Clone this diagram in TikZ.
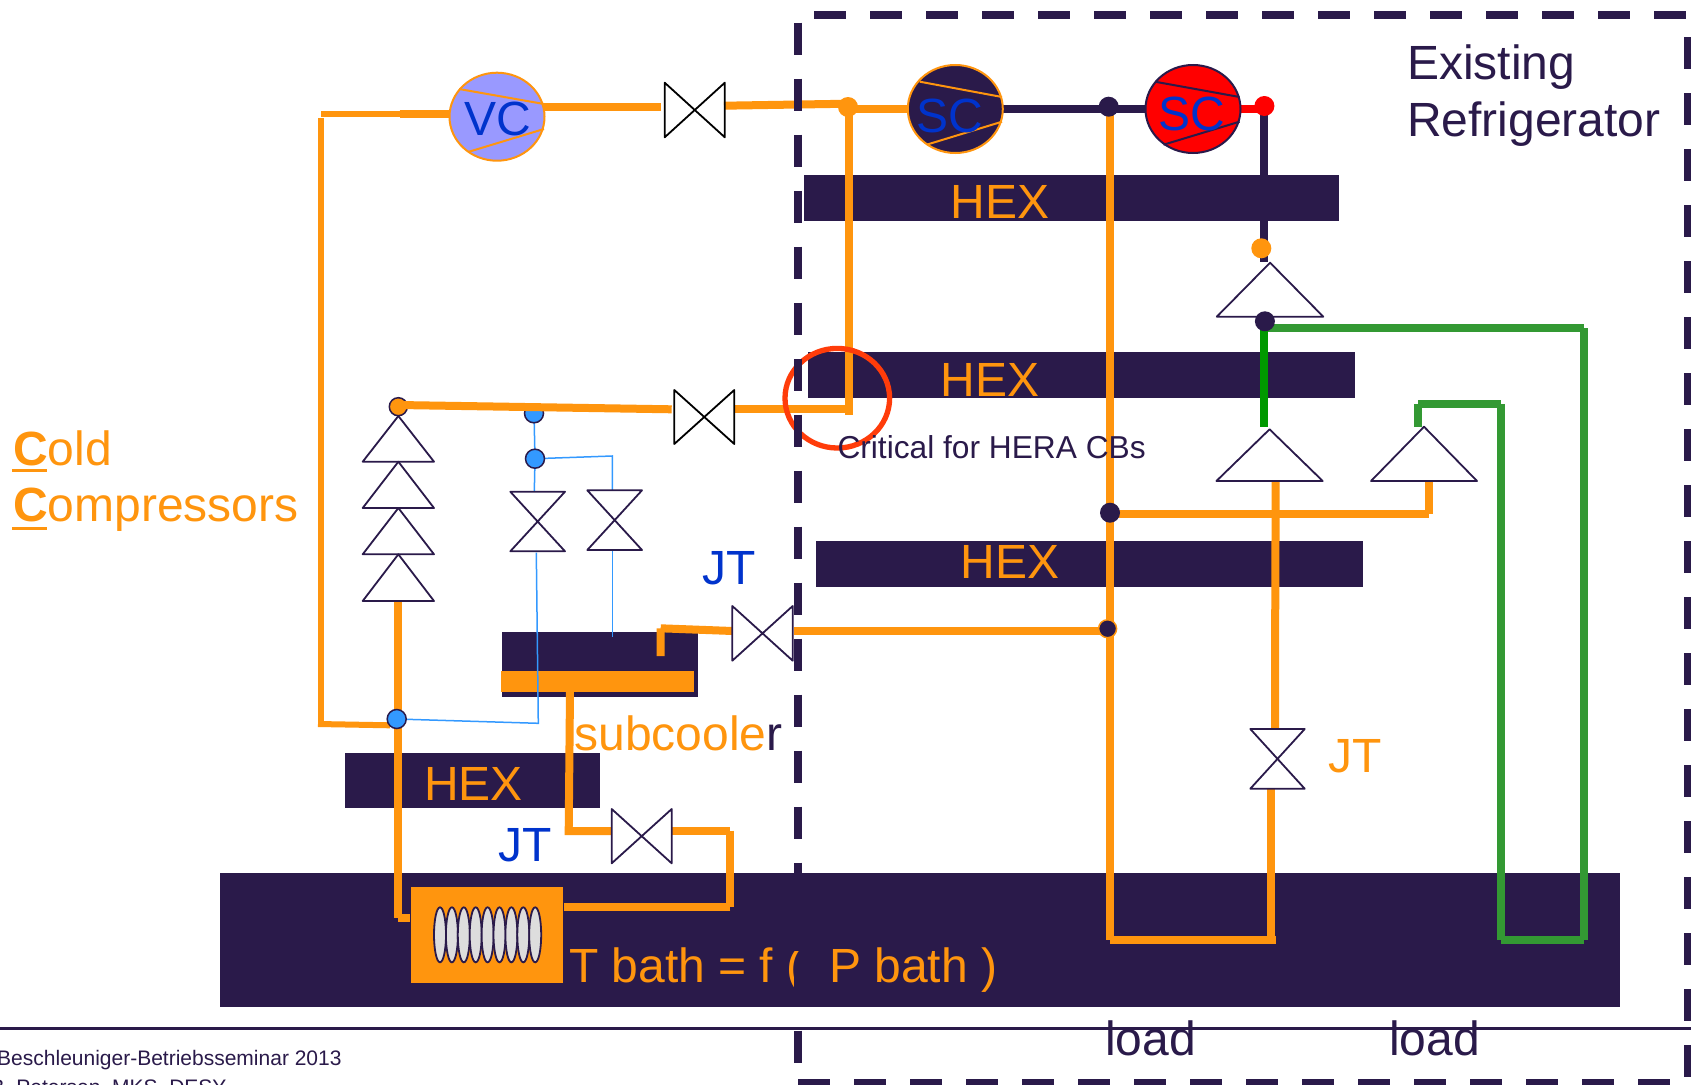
\documentclass[tikz,border=0pt]{standalone}
\usepackage{fontspec}
\setmainfont{Liberation Sans}
\usetikzlibrary{shapes.geometric}
\pgfdeclarelayer{bars}
\pgfdeclarelayer{pipes}
\pgfsetlayers{bars,pipes,main}
\definecolor{navy}{HTML}{2A1A4A}
\definecolor{orng}{HTML}{FF950E}
\definecolor{txtblue}{HTML}{0033CC}
\definecolor{lblue}{HTML}{3399FF}
\definecolor{grn}{HTML}{339933}
\definecolor{dgrn}{HTML}{009900}
\definecolor{vcfill}{HTML}{9999FF}
\definecolor{ringred}{HTML}{FF3C0A}
\definecolor{coilgrey}{HTML}{DDDDDD}
\newcommand{\fs}[1]{\fontsize{#1}{#1}\selectfont}
% named rectangle from corner (x0,y0) to corner (x1,y1)
\newcommand{\mybox}[6][]{%
  \pgfmathsetmacro{\mybw}{#5-#3}\pgfmathsetmacro{\mybh}{#6-#4}%
  \node[inner sep=0pt,outer sep=0pt,minimum width=\mybw pt,minimum height=\mybh pt,anchor=north west,#1] (#2) at (#3,#4) {};}
\newcommand{\bowh}[2][navy]{\draw[line width=1.8pt,draw=#1,line join=round] (#2.north west)--(#2.south east)--(#2.north east)--(#2.south west)--cycle;}
\newcommand{\bowv}[2][navy]{\draw[line width=1.8pt,draw=#1,line join=round] (#2.north west)--(#2.north east)--(#2.south west)--(#2.south east)--cycle;}
\newcommand{\trig}[1]{\draw[line width=1.8pt,draw=navy,fill=white,line join=round] (#1.north)--(#1.south west)--(#1.south east)--cycle;}
\tikzset{
  pipe/.style={line width=8pt,draw=orng},
  thinpipe/.style={line width=6pt,draw=orng},
  gpipe/.style={line width=8pt,draw=grn},
  npipe/.style={line width=8pt,draw=navy},
  bluel/.style={line width=1.5pt,draw=lblue},
  dashln/.style={line width=8pt,draw=navy,dash pattern=on 32pt off 24pt},
  bar/.style={fill=navy},
  dot/.style={ellipse,inner sep=0pt,outer sep=0pt,minimum width=20pt,minimum height=20pt},
  edot/.style={dot,line width=1.5pt,minimum width=18pt,minimum height=18pt},
  bdot/.style={dot,fill=lblue,draw=navy,line width=1.5pt,minimum width=19pt,minimum height=19pt},
  comp/.style={ellipse,inner sep=0pt,outer sep=0pt,minimum width=95pt,minimum height=88pt,line width=2pt},
  lab/.style={inner sep=0pt,outer sep=0pt,anchor=base},
  labw/.style={inner sep=0pt,outer sep=0pt,anchor=base west},
  labe/.style={inner sep=0pt,outer sep=0pt,anchor=base east},
  big/.style={font=\fs{48}},
  coil/.style={ellipse,inner sep=0pt,outer sep=0pt,minimum width=12pt,minimum height=55pt,draw=navy,fill=coilgrey,line width=1.8pt},
}
\begin{document}
\begin{tikzpicture}[x=1pt,y=-1pt]
\useasboundingbox (0,0) rectangle (1691,1084);
\clip (0,0) rectangle (1691,1084);

% ---- bars
\begin{pgfonlayer}{bars}
\fill[white] (0,0) rectangle (1691,1084);
\mybox[bar]{bath}{220}{873.3}{1620.3}{1006.7}
\mybox[bar]{hexA}{803.6}{175.3}{1339.4}{221.3}
\mybox[bar]{hexB}{808}{352.3}{1355}{398.3}
\mybox[bar]{hexC}{816}{541.3}{1363}{587.3}
\mybox[bar]{hexD}{344.7}{753.3}{600}{808.3}
\mybox[bar]{subbox}{502.3}{632.3}{698.3}{697.3}
\end{pgfonlayer}

% ---- valves and triangles (named frames)
\mybox{vA}{664.7}{82.7}{724.8}{137.3}
\mybox{vB}{674.3}{390}{734.3}{444}
\mybox{vC}{732.3}{606}{792.7}{660.7}
\mybox{vD}{611.7}{809}{671.7}{863.3}
\mybox{vE}{510.3}{491.7}{565}{551.3}
\mybox{vF}{587.3}{490.3}{642}{550}
\mybox{vG}{1250.3}{729}{1304.7}{788.7}
\mybox{tA}{1216.8}{262.7}{1323.3}{316.7}
\mybox{tB}{1216.4}{429.3}{1322.7}{481}
\mybox{tC}{1371}{426.7}{1477}{481}
\mybox{tD}{362.7}{416}{434}{461.7}
\mybox{tE}{362.7}{461.7}{434}{508}
\mybox{tF}{362.7}{508}{434}{554.3}
\mybox{tG}{362.7}{554.3}{434}{601}

% ---- compressors
\node[comp,draw=orng,fill=vcfill] (vc) at (497,116.7) {};
\node[comp,draw=orng,fill=navy] (scA) at (955.3,109) {};
\node[comp,draw=navy,fill=red] (scB) at (1193,109) {};

% ---- junction positions
\coordinate (jKpos) at (396.7,719);
\coordinate (jIpos) at (534,413.3);
\coordinate (jJpos) at (535,458.7);

% ---- free ends and bends
\coordinate (p1) at (321,118);
\coordinate (p2) at (321,724);
\coordinate (p3) at (321,114);
\coordinate (p4) at (399.5,114);
\coordinate (p5) at (449,114);
\coordinate (p6) at (538,107.3);
\coordinate (p7) at (660.5,107.3);
\coordinate (p8) at (724,105.7);
\coordinate (p9) at (849,103.7);
\coordinate (p9a) at (849,109);
\coordinate (p10) at (908,109);
\coordinate (p10a) at (849,107);
\coordinate (p11) at (849,415);
\coordinate (p12) at (734.7,409.3);
\coordinate (p13) at (852.7,409.3);
\coordinate (p14) at (398,405);
\coordinate (p15) at (671.7,409.3);
\coordinate (p16) at (398.3,601);
\coordinate (p17) at (398.3,918);
\coordinate (p18) at (410,918);
\coordinate (p19) at (318,724);
\coordinate (p20) at (390,725.3);
\coordinate (b1) at (501,681.3);
\coordinate (b2) at (694.3,681.3);
\coordinate (s1) at (660.7,656);
\coordinate (s2) at (660.7,628.3);
\coordinate (s4) at (732.7,631);
\coordinate (s5) at (794,630.7);
\coordinate (s5a) at (1107.6,630.7);
\coordinate (s6) at (570,691);
\coordinate (s7) at (568.7,831);
\coordinate (s8) at (611.7,831);
\coordinate (s9) at (671.7,830.7);
\coordinate (s10) at (730.3,830.7);
\coordinate (s11) at (730.3,907.3);
\coordinate (s12) at (564.3,907.3);
\coordinate (r1) at (1109.7,107);
\coordinate (r2) at (1109.7,940);
\coordinate (r2a) at (1275.7,940);
\coordinate (r3) at (1271,940);
\coordinate (r4) at (1271,788.7);
\coordinate (r5) at (1275,728);
\coordinate (r6) at (1275,673);
\coordinate (r7) at (1275.7,481);
\coordinate (r7a) at (1110,513.7);
\coordinate (r8) at (1429.4,513.7);
\coordinate (r9) at (1429.4,481);
\coordinate (g1) at (1265,328);
\coordinate (g2) at (1583.5,328);
\coordinate (g3) at (1583.5,940);
\coordinate (g4) at (1501,940);
\coordinate (g5) at (1501,404.3);
\coordinate (g6) at (1418,404.3);
\coordinate (g7) at (1418,426.7);
\coordinate (g8) at (1264,328);
\coordinate (g9) at (1264,426.7);
\coordinate (n1) at (1264,106);
\coordinate (n2) at (1264,261.7);
\coordinate (q1) at (1240.6,109);
\coordinate (q2) at (1265,109);
\coordinate (l1) at (612.3,456);
\coordinate (l2) at (612.3,490.3);
\coordinate (l3) at (612.3,550);
\coordinate (l4) at (612.3,636.7);
\coordinate (l5) at (534.3,491.7);
\coordinate (l6) at (536.3,552.7);
\coordinate (l7) at (538.3,723.3);

% ---- pipes, below every symbol
\begin{pgfonlayer}{pipes}
\draw[npipe] (scA) -- (scB);
\draw[npipe] (n1) -- (n2);
\draw[line width=8pt,draw=red] (q1) -- (q2);
\draw[line width=20.7pt,draw=orng] (b1) -- (b2);
\draw[thinpipe] (p1) -- (p2);
\draw[thinpipe] (p3) -- (p4);
\draw[pipe] (p4) -- (p5);
\draw[pipe] (p6) -- (p7);
\draw[pipe] (p8) -- (p9);
\draw[pipe] (p9a) -- (p10);
\draw[pipe] (p10a) -- (p11);
\draw[pipe] (p12) -- (p13);
\draw[pipe] (p16) -- (p17) (p17) -- (p18);
\draw[thinpipe] (p19) -- (p20);
\draw[pipe] (s1) -- (s2) (s2) -- (s4);
\draw[pipe] (s5) -- (s5a);
\draw[pipe,line join=miter] (s6) -- (s7) -- (s8);
\draw[pipe] (s9) -- (s10) (s10) -- (s11) (s11) -- (s12);
\draw[pipe] (r1) -- (r2) (r2) -- (r2a) (r3) -- (r4);
\draw[pipe] (r5) -- (r6) -- (r7);
\draw[pipe] (r7a) -- (r8) (r8) -- (r9);
\draw[gpipe] (g1) -- (g2) (g2) -- (g3) (g3) -- (g4) (g4) -- (g5) (g5) -- (g6) (g6) -- (g7);
\draw[line width=8pt,draw=dgrn] (g8) -- (g9);
\end{pgfonlayer}

% ---- thin blue lines
\draw[bluel] (jIpos) -- (jJpos) -- (l5);
\draw[bluel] (jJpos) -- (l1) -- (l2);
\draw[bluel] (l3) -- (l4);
\draw[bluel] (l6) -- (l7) -- (jKpos);

% ---- compressor chords
\coordinate (ca1) at (459,89);   \coordinate (ca2) at (544,104);
\coordinate (ca3) at (468,152);  \coordinate (ca4) at (544,129);
\coordinate (cb1) at (919.8,81.7);  \coordinate (cb2) at (1002,97);
\coordinate (cb3) at (926.6,144.7); \coordinate (cb4) at (1002,121.7);
\coordinate (cc1) at (1155,81.7);   \coordinate (cc2) at (1239.5,97);
\coordinate (cc3) at (1163.5,144.7);\coordinate (cc4) at (1239.5,121.7);
\draw[line width=2pt,draw=orng] (ca1) -- (ca2) (ca3) -- (ca4);
\draw[line width=2pt,draw=orng] (cb1) -- (cb2) (cb3) -- (cb4);
\draw[line width=2pt,draw=navy] (cc1) -- (cc2) (cc3) -- (cc4);

% ---- symbols
\bowh[black]{vA}
\bowh[black]{vB}
\bowh{vC}
\bowh{vD}
\bowv{vE}
\bowv{vF}
\bowv{vG}
\trig{tA}
\trig{tB}
\trig{tC}
\trig{tD}
\trig{tE}
\trig{tF}
\trig{tG}

% ---- dots
\node[dot,fill=orng] (jA) at (848,107) {};
\node[dot,fill=navy] (jB) at (1108.7,106.7) {};
\node[dot,fill=red] (jC) at (1264.4,106) {};
\node[dot,fill=orng] (jD) at (1261.3,248.3) {};
\node[dot,fill=navy] (jE) at (1264.9,321.3) {};
\node[dot,fill=navy] (jF) at (1110,512.7) {};
\node[edot,fill=navy,draw=orng] (jG) at (1107.6,628.7) {};
\node[edot,fill=orng,draw=navy] (jH) at (398.3,406.7) {};
\node[bdot] (jI) at (jIpos) {};
\node[bdot] (jJ) at (jJpos) {};
\node[bdot] (jK) at (jKpos) {};
\draw[pipe] (p14) -- (p15);

% ---- cold box with coil
\mybox[fill=orng]{coldbox}{411.3}{886.7}{563.3}{982.7}
\foreach \i in {0,...,8}{
  \node[coil] (coil\i) at ({440+11.9*\i},934.8) {};
}

% ---- ring
\node[ellipse,inner sep=0pt,outer sep=0pt,minimum width=104.6pt,minimum height=99.6pt,draw=ringred,line width=5.3pt] (ring) at (837.3,398.2) {};

% ---- texts
\node[lab,big,text=txtblue] (tvc) at (498,135) {VC};
\node[lab,big,text=txtblue] (tsca) at (950,132.7) {SC};
\node[lab,big,text=txtblue] (tscb) at (1191.5,130) {SC};
\node[lab,big,text=orng] (thexa) at (1000,218) {HEX};
\node[lab,big,text=orng] (thexb) at (990,396) {HEX};
\node[lab,big,text=orng] (thexc) at (1010,578.5) {HEX};
\node[lab,big,text=orng] (thexd) at (473.5,800) {HEX};
\node[labw,big,text=navy] (tex1) at (1407,79.3) {Existing};
\node[labw,big,text=navy] (tex2) at (1407,136) {Refrigerator};
\node[labw,font=\fs{31.7},text=navy] (tcrit) at (837.5,458) {Critical for HERA CBs};
\node[lab,big,text=orng] (tjta) at (1355,772) {JT};
\node[lab,big,text=txtblue] (tjtb) at (729,584) {JT};
\node[lab,big,text=txtblue] (tjtc) at (525.5,861) {JT};
\node[labw,big,text=orng] (tsub) at (574.5,750.7) {subcoole\textcolor{navy}{r}};
\node[labw,big,text=orng] (tbath) at (569,982.7) {T bath = f (\ \ P bath )};
\node[labw,big,text=orng] (tcold) at (13,465) {\textbf{C}old};
\node[labw,big,text=orng] (tcomp) at (13,521.7) {\textbf{C}ompressors};
\coordinate (u1) at (12,470.3); \coordinate (u2) at (47,470.3);
\coordinate (u3) at (12,528.3); \coordinate (u4) at (47,528.3);
\draw[line width=3pt,draw=orng] (u1) -- (u2) (u3) -- (u4);

% ---- footer
\coordinate (f1) at (0,1028.7);
\coordinate (f2) at (1691,1028.7);
\draw[line width=3pt,draw=navy] (f1) -- (f2);
\node[lab,big,text=navy] (tl1) at (1150.5,1055) {load};
\node[lab,big,text=navy] (tl2) at (1434.5,1055) {load};
\node[labe,font=\fs{21},text=navy] (tf1) at (341.6,1065) {Beschleuniger-Betriebsseminar 2013};
\node[labe,font=\fs{21},text=navy] (tf2) at (226.5,1094) {B. Petersen, MKS, DESY};

% ---- dashed frame
\coordinate (d1) at (798,22.7);  \coordinate (d2) at (798,1063);
\coordinate (d3) at (814,14.7);  \coordinate (d4) at (1691,14.7);
\coordinate (d5) at (1688,36.7); \coordinate (d6) at (1688,1077);
\coordinate (d7) at (798,1083);  \coordinate (d8) at (1670,1083);
\draw[dashln] (d1) -- (d2);
\draw[dashln] (d3) -- (d4);
\draw[dashln] (d5) -- (d6);
\draw[dashln] (d7) -- (d8);
\end{tikzpicture}
\end{document}
